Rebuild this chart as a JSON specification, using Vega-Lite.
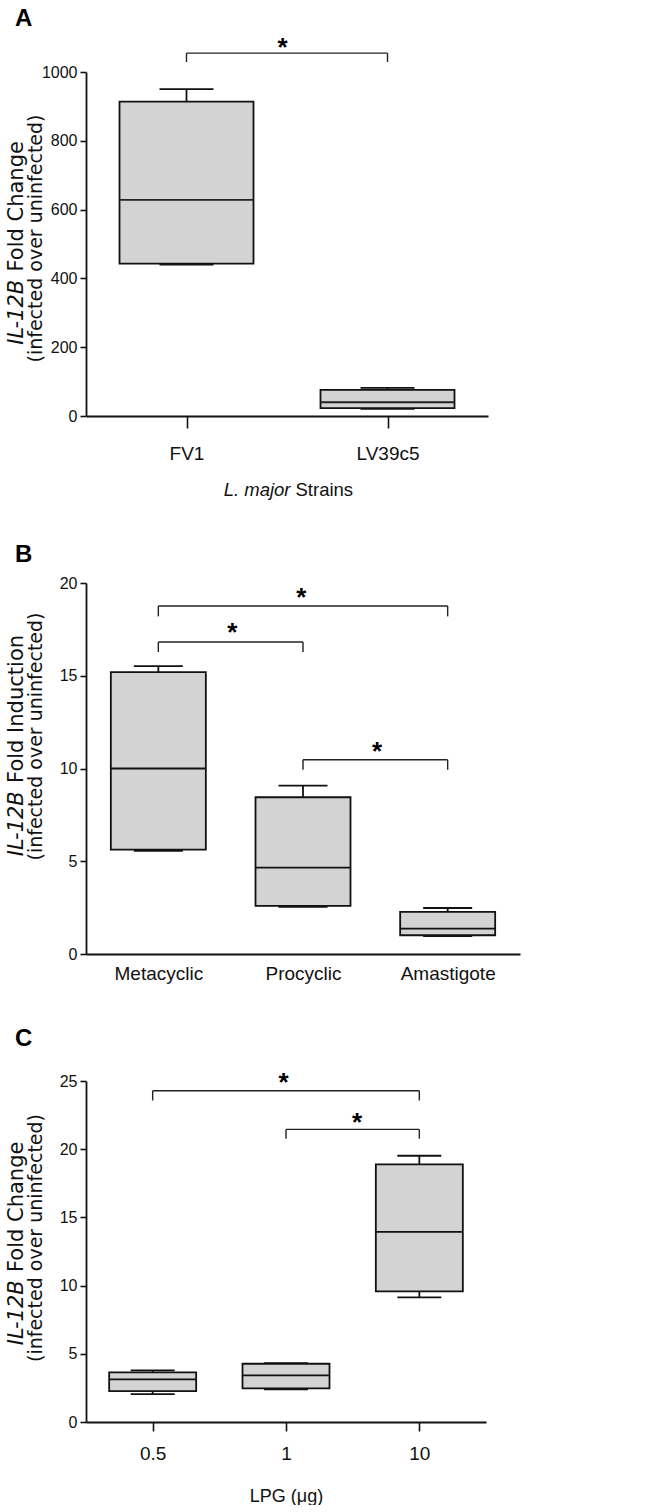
{
  "$schema": "https://vega.github.io/schema/vega-lite/v6.json",
  "padding": {"left": 5, "right": 5, "top": 6, "bottom": 0},
  "spacing": 44,
  "config": {
    "view": {"stroke": null},
    "axis": {
      "grid": false,
      "domainColor": "#111",
      "tickColor": "#111",
      "labelColor": "#111",
      "titleColor": "#111",
      "domainWidth": 1.8,
      "tickWidth": 1.6,
      "labelFont": "Liberation Sans",
      "titleFont": "DejaVu Sans",
      "titleFontWeight": "normal"
    },
    "tick": {"opacity": 1},
    "title": {"font": "Liberation Sans", "fontSize": 24, "fontWeight": "bold", "anchor": "start", "frame": "bounds", "color": "#000"}
  },
  "datasets": {
    "boxA": [
      {"cat": "FV1", "min": 440, "q1": 443, "median": 628, "q3": 914, "max": 950},
      {"cat": "LV39c5", "min": 21, "q1": 23, "median": 40, "q3": 76, "max": 82}
    ],
    "brA": [
      {"from": "FV1", "to": "LV39c5", "y": 1055, "ybot": 1029, "sy": 1091, "sig": "*"}
    ],
    "boxB": [
      {"cat": "Metacyclic", "min": 5.56, "q1": 5.63, "median": 10.0, "q3": 15.2, "max": 15.52},
      {"cat": "Procyclic", "min": 2.54, "q1": 2.59, "median": 4.66, "q3": 8.45, "max": 9.08},
      {"cat": "Amastigote", "min": 0.97, "q1": 1.01, "median": 1.37, "q3": 2.27, "max": 2.48}
    ],
    "brB": [
      {"from": "Metacyclic", "to": "Amastigote", "y": 18.76, "ybot": 18.2, "sy": 19.59, "sig": "*"},
      {"from": "Metacyclic", "to": "Procyclic", "y": 16.82, "ybot": 16.28, "sy": 17.66, "sig": "*"},
      {"from": "Procyclic", "to": "Amastigote", "y": 10.47, "ybot": 9.93, "sy": 11.28, "sig": "*"}
    ],
    "boxC": [
      {"cat": "0.5", "min": 2.05, "q1": 2.27, "median": 3.13, "q3": 3.64, "max": 3.78},
      {"cat": "1", "min": 2.4, "q1": 2.47, "median": 3.42, "q3": 4.27, "max": 4.32},
      {"cat": "10", "min": 9.13, "q1": 9.57, "median": 13.94, "q3": 18.89, "max": 19.52}
    ],
    "brC": [
      {"from": "0.5", "to": "10", "y": 24.28, "ybot": 23.57, "sy": 25.4, "sig": "*"},
      {"from": "1", "to": "10", "y": 21.45, "ybot": 20.77, "sy": 22.47, "sig": "*"}
    ]
  },
  "vconcat": [
    {
      "title": {"text": "A", "dx": 10, "offset": 4},
      "width": 402,
      "height": 344,
      "resolve": {"axis": {"x": "independent", "y": "independent"}},
      "layer": [
        {
          "data": {"name": "boxA"},
          "mark": {"type": "rule", "strokeWidth": 1.8, "color": "#111"},
          "encoding": {
            "x": {"field": "cat", "type": "nominal", "scale": {"type": "point", "padding": 0.5, "domain": ["FV1", "LV39c5"]},
              "axis": {"orient": "bottom", "title": "Strains", "labelAngle": 0, "tickSize": 12, "labelPadding": 16, "labelFontSize": 19,
                "titleFont": "Liberation Sans", "titleFontSize": 18.5, "titleX": 209, "titleY": 79, "titleAlign": "left", "titleBaseline": "alphabetic"}},
            "y": {"field": "q3", "type": "quantitative", "scale": {"domain": [0, 1000], "nice": false},
              "axis": {"orient": "left", "values": [0, 200, 400, 600, 800, 1000], "format": "d", "tickSize": 6, "labelPadding": 3, "labelFontSize": 16,
                "title": "(infected over uninfected)", "titleFontSize": 19, "titleX": -44.3, "titleY": 166, "titleAngle": -90, "titleAlign": "center", "titleBaseline": "alphabetic"}},
            "y2": {"field": "max"}
          }
        },
        {
          "data": {"name": "boxA"},
          "mark": {"type": "rule", "strokeWidth": 1.8, "color": "#111"},
          "encoding": {
            "x": {"field": "cat", "type": "nominal",
              "axis": {"orient": "bottom", "title": "L. major", "titleFontStyle": "italic", "domain": false, "ticks": false, "labels": false,
                "titleFont": "Liberation Sans", "titleFontSize": 18.5, "titleX": 204, "titleY": 79, "titleAlign": "right", "titleBaseline": "alphabetic"}},
            "y": {"field": "min", "type": "quantitative",
              "axis": {"orient": "left", "title": "IL-12B", "titleFontStyle": "italic", "domain": false, "ticks": false, "labels": false,
                "titleFontSize": 21, "titleX": -64, "titleY": 272.3, "titleAngle": -90, "titleAlign": "left", "titleBaseline": "alphabetic"}},
            "y2": {"field": "q1"}
          }
        },
        {
          "data": {"name": "boxA"},
          "mark": {"type": "bar", "width": 134, "fill": "#d3d3d3", "stroke": "#111", "strokeWidth": 1.8},
          "encoding": {
            "x": {"field": "cat", "type": "nominal", "axis": null},
            "y": {"field": "q1", "type": "quantitative",
              "axis": {"orient": "left", "title": "Fold Change", "domain": false, "ticks": false, "labels": false,
                "titleFontSize": 21, "titleX": -64, "titleY": 199, "titleAngle": -90, "titleAlign": "left", "titleBaseline": "alphabetic"}},
            "y2": {"field": "q3"}
          }
        },
        {
          "data": {"name": "boxA"},
          "mark": {"type": "tick", "size": 134, "thickness": 1.8, "color": "#222", "opacity": 1},
          "encoding": {
            "x": {"field": "cat", "type": "nominal", "axis": null},
            "y": {"field": "median", "type": "quantitative", "axis": null}
          }
        },
        {
          "data": {"name": "boxA"},
          "mark": {"type": "tick", "size": 54, "thickness": 1.8, "color": "#111", "opacity": 1},
          "encoding": {
            "x": {"field": "cat", "type": "nominal", "axis": null},
            "y": {"field": "max", "type": "quantitative", "axis": null}
          }
        },
        {
          "data": {"name": "boxA"},
          "mark": {"type": "tick", "size": 54, "thickness": 1.8, "color": "#111", "opacity": 1},
          "encoding": {
            "x": {"field": "cat", "type": "nominal", "axis": null},
            "y": {"field": "min", "type": "quantitative", "axis": null}
          }
        },
        {
          "data": {"name": "brA"},
          "mark": {"type": "rule", "strokeWidth": 1.4, "color": "#222"},
          "encoding": {
            "x": {"field": "from", "type": "nominal", "axis": null},
            "x2": {"field": "to"},
            "y": {"field": "y", "type": "quantitative", "axis": null}
          }
        },
        {
          "data": {"name": "brA"},
          "mark": {"type": "rule", "strokeWidth": 1.4, "color": "#222"},
          "encoding": {
            "x": {"field": "from", "type": "nominal", "axis": null},
            "y": {"field": "y", "type": "quantitative", "axis": null},
            "y2": {"field": "ybot"}
          }
        },
        {
          "data": {"name": "brA"},
          "mark": {"type": "rule", "strokeWidth": 1.4, "color": "#222"},
          "encoding": {
            "x": {"field": "to", "type": "nominal", "axis": null},
            "y": {"field": "y", "type": "quantitative", "axis": null},
            "y2": {"field": "ybot"}
          }
        },
        {
          "data": {"name": "brA"},
          "mark": {"type": "text", "font": "Liberation Sans", "fontSize": 26, "fontWeight": "bold", "baseline": "alphabetic", "align": "center", "dx": 96, "dy": 15, "color": "#000"},
          "encoding": {
            "x": {"field": "from", "type": "nominal", "axis": null},
            "y": {"field": "sy", "type": "quantitative", "axis": null},
            "text": {"field": "sig"}
          }
        }
      ]
    },
    {
      "title": {"text": "B", "dx": 10, "offset": 8},
      "width": 434,
      "height": 371,
      "resolve": {"axis": {"x": "independent", "y": "independent"}},
      "layer": [
        {
          "data": {"name": "boxB"},
          "mark": {"type": "rule", "strokeWidth": 1.8, "color": "#111"},
          "encoding": {
            "x": {"field": "cat", "type": "nominal", "scale": {"type": "point", "padding": 0.5, "domain": ["Metacyclic", "Procyclic", "Amastigote"]},
              "axis": {"orient": "bottom", "title": null, "labelAngle": 0, "ticks": false, "tickSize": 0, "labelPadding": 10, "labelFontSize": 19}},
            "y": {"field": "q3", "type": "quantitative", "scale": {"domain": [0, 20], "nice": false},
              "axis": {"orient": "left", "values": [0, 5, 10, 15, 20], "tickSize": 6, "labelPadding": 3, "labelFontSize": 16,
                "title": "(infected over uninfected)", "titleFontSize": 19, "titleX": -44.3, "titleY": 153, "titleAngle": -90, "titleAlign": "center", "titleBaseline": "alphabetic"}},
            "y2": {"field": "max"}
          }
        },
        {
          "data": {"name": "boxB"},
          "mark": {"type": "rule", "strokeWidth": 1.8, "color": "#111"},
          "encoding": {
            "x": {"field": "cat", "type": "nominal", "axis": null},
            "y": {"field": "min", "type": "quantitative",
              "axis": {"orient": "left", "title": "IL-12B", "titleFontStyle": "italic", "domain": false, "ticks": false, "labels": false,
                "titleFontSize": 21, "titleX": -64, "titleY": 272.7, "titleAngle": -90, "titleAlign": "left", "titleBaseline": "alphabetic"}},
            "y2": {"field": "q1"}
          }
        },
        {
          "data": {"name": "boxB"},
          "mark": {"type": "bar", "width": 95, "fill": "#d3d3d3", "stroke": "#111", "strokeWidth": 1.8},
          "encoding": {
            "x": {"field": "cat", "type": "nominal", "axis": null},
            "y": {"field": "q1", "type": "quantitative",
              "axis": {"orient": "left", "title": "Fold Induction", "domain": false, "ticks": false, "labels": false,
                "titleFontSize": 21, "titleX": -64, "titleY": 199.4, "titleAngle": -90, "titleAlign": "left", "titleBaseline": "alphabetic"}},
            "y2": {"field": "q3"}
          }
        },
        {
          "data": {"name": "boxB"},
          "mark": {"type": "tick", "size": 95, "thickness": 1.8, "color": "#111", "opacity": 1},
          "encoding": {
            "x": {"field": "cat", "type": "nominal", "axis": null},
            "y": {"field": "median", "type": "quantitative", "axis": null}
          }
        },
        {
          "data": {"name": "boxB"},
          "mark": {"type": "tick", "size": 49, "thickness": 1.8, "color": "#111", "opacity": 1},
          "encoding": {
            "x": {"field": "cat", "type": "nominal", "axis": null},
            "y": {"field": "max", "type": "quantitative", "axis": null}
          }
        },
        {
          "data": {"name": "boxB"},
          "mark": {"type": "tick", "size": 49, "thickness": 1.8, "color": "#111", "opacity": 1},
          "encoding": {
            "x": {"field": "cat", "type": "nominal", "axis": null},
            "y": {"field": "min", "type": "quantitative", "axis": null}
          }
        },
        {
          "data": {"name": "brB"},
          "mark": {"type": "rule", "strokeWidth": 1.4, "color": "#222"},
          "encoding": {
            "x": {"field": "from", "type": "nominal", "axis": null},
            "x2": {"field": "to"},
            "y": {"field": "y", "type": "quantitative", "axis": null}
          }
        },
        {
          "data": {"name": "brB"},
          "mark": {"type": "rule", "strokeWidth": 1.4, "color": "#222"},
          "encoding": {
            "x": {"field": "from", "type": "nominal", "axis": null},
            "y": {"field": "y", "type": "quantitative", "axis": null},
            "y2": {"field": "ybot"}
          }
        },
        {
          "data": {"name": "brB"},
          "mark": {"type": "rule", "strokeWidth": 1.4, "color": "#222"},
          "encoding": {
            "x": {"field": "to", "type": "nominal", "axis": null},
            "y": {"field": "y", "type": "quantitative", "axis": null},
            "y2": {"field": "ybot"}
          }
        },
        {
          "data": {"name": "brB"},
          "transform": [{"filter": "datum.to === 'Amastigote' && datum.from === 'Metacyclic'"}],
          "mark": {"type": "text", "font": "Liberation Sans", "fontSize": 26, "fontWeight": "bold", "baseline": "alphabetic", "align": "center", "dx": 143, "dy": 15, "color": "#000"},
          "encoding": {
            "x": {"field": "from", "type": "nominal", "axis": null},
            "y": {"field": "sy", "type": "quantitative", "axis": null},
            "text": {"field": "sig"}
          }
        },
        {
          "data": {"name": "brB"},
          "transform": [{"filter": "!(datum.to === 'Amastigote' && datum.from === 'Metacyclic')"}],
          "mark": {"type": "text", "font": "Liberation Sans", "fontSize": 26, "fontWeight": "bold", "baseline": "alphabetic", "align": "center", "dx": 74, "dy": 15, "color": "#000"},
          "encoding": {
            "x": {"field": "from", "type": "nominal", "axis": null},
            "y": {"field": "sy", "type": "quantitative", "axis": null},
            "text": {"field": "sig"}
          }
        }
      ]
    },
    {
      "title": {"text": "C", "dx": 10, "offset": 18.5},
      "width": 400,
      "height": 341,
      "resolve": {"axis": {"x": "independent", "y": "independent"}},
      "layer": [
        {
          "data": {"name": "boxC"},
          "mark": {"type": "rule", "strokeWidth": 1.8, "color": "#111"},
          "encoding": {
            "x": {"field": "cat", "type": "nominal", "scale": {"type": "point", "padding": 0.5, "domain": ["0.5", "1", "10"]},
              "axis": {"orient": "bottom", "title": "LPG (μg)", "labelAngle": 0, "tickSize": 9, "labelPadding": 13, "labelFontSize": 19,
                "titleFont": "Liberation Sans", "titleFontSize": 18, "titleY": 79, "titleBaseline": "alphabetic"}},
            "y": {"field": "q3", "type": "quantitative", "scale": {"domain": [0, 25], "nice": false},
              "axis": {"orient": "left", "values": [0, 5, 10, 15, 20, 25], "tickSize": 6, "labelPadding": 3, "labelFontSize": 16,
                "title": "(infected over uninfected)", "titleFontSize": 19, "titleX": -44.3, "titleY": 156.5, "titleAngle": -90, "titleAlign": "center", "titleBaseline": "alphabetic"}},
            "y2": {"field": "max"}
          }
        },
        {
          "data": {"name": "boxC"},
          "mark": {"type": "rule", "strokeWidth": 1.8, "color": "#111"},
          "encoding": {
            "x": {"field": "cat", "type": "nominal", "axis": null},
            "y": {"field": "min", "type": "quantitative",
              "axis": {"orient": "left", "title": "IL-12B", "titleFontStyle": "italic", "domain": false, "ticks": false, "labels": false,
                "titleFontSize": 21, "titleX": -64, "titleY": 263.8, "titleAngle": -90, "titleAlign": "left", "titleBaseline": "alphabetic"}},
            "y2": {"field": "q1"}
          }
        },
        {
          "data": {"name": "boxC"},
          "mark": {"type": "bar", "width": 87, "fill": "#d3d3d3", "stroke": "#111", "strokeWidth": 1.8},
          "encoding": {
            "x": {"field": "cat", "type": "nominal", "axis": null},
            "y": {"field": "q1", "type": "quantitative",
              "axis": {"orient": "left", "title": "Fold Change", "domain": false, "ticks": false, "labels": false,
                "titleFontSize": 21, "titleX": -64, "titleY": 190.5, "titleAngle": -90, "titleAlign": "left", "titleBaseline": "alphabetic"}},
            "y2": {"field": "q3"}
          }
        },
        {
          "data": {"name": "boxC"},
          "mark": {"type": "tick", "size": 87, "thickness": 1.8, "color": "#111", "opacity": 1},
          "encoding": {
            "x": {"field": "cat", "type": "nominal", "axis": null},
            "y": {"field": "median", "type": "quantitative", "axis": null}
          }
        },
        {
          "data": {"name": "boxC"},
          "mark": {"type": "tick", "size": 44, "thickness": 1.8, "color": "#111", "opacity": 1},
          "encoding": {
            "x": {"field": "cat", "type": "nominal", "axis": null},
            "y": {"field": "max", "type": "quantitative", "axis": null}
          }
        },
        {
          "data": {"name": "boxC"},
          "mark": {"type": "tick", "size": 44, "thickness": 1.8, "color": "#111", "opacity": 1},
          "encoding": {
            "x": {"field": "cat", "type": "nominal", "axis": null},
            "y": {"field": "min", "type": "quantitative", "axis": null}
          }
        },
        {
          "data": {"name": "brC"},
          "mark": {"type": "rule", "strokeWidth": 1.4, "color": "#222"},
          "encoding": {
            "x": {"field": "from", "type": "nominal", "axis": null},
            "x2": {"field": "to"},
            "y": {"field": "y", "type": "quantitative", "axis": null}
          }
        },
        {
          "data": {"name": "brC"},
          "mark": {"type": "rule", "strokeWidth": 1.4, "color": "#222"},
          "encoding": {
            "x": {"field": "from", "type": "nominal", "axis": null},
            "y": {"field": "y", "type": "quantitative", "axis": null},
            "y2": {"field": "ybot"}
          }
        },
        {
          "data": {"name": "brC"},
          "mark": {"type": "rule", "strokeWidth": 1.4, "color": "#222"},
          "encoding": {
            "x": {"field": "to", "type": "nominal", "axis": null},
            "y": {"field": "y", "type": "quantitative", "axis": null},
            "y2": {"field": "ybot"}
          }
        },
        {
          "data": {"name": "brC"},
          "transform": [{"filter": "datum.from === '0.5'"}],
          "mark": {"type": "text", "font": "Liberation Sans", "fontSize": 26, "fontWeight": "bold", "baseline": "alphabetic", "align": "center", "dx": 131, "dy": 15, "color": "#000"},
          "encoding": {
            "x": {"field": "from", "type": "nominal", "axis": null},
            "y": {"field": "sy", "type": "quantitative", "axis": null},
            "text": {"field": "sig"}
          }
        },
        {
          "data": {"name": "brC"},
          "transform": [{"filter": "datum.from === '1'"}],
          "mark": {"type": "text", "font": "Liberation Sans", "fontSize": 26, "fontWeight": "bold", "baseline": "alphabetic", "align": "center", "dx": 71, "dy": 15, "color": "#000"},
          "encoding": {
            "x": {"field": "from", "type": "nominal", "axis": null},
            "y": {"field": "sy", "type": "quantitative", "axis": null},
            "text": {"field": "sig"}
          }
        }
      ]
    }
  ]
}
